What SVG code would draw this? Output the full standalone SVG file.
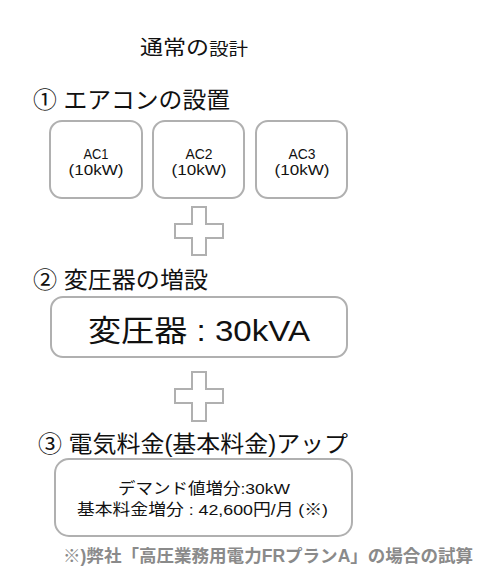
<svg xmlns="http://www.w3.org/2000/svg" width="496" height="571" viewBox="0 0 496 571">
<style>
text{font-family:"Liberation Sans","Noto Sans CJK JP",sans-serif;fill:#111}
.box{fill:#fff;stroke:#b0b0b0;stroke-width:2}
.plus{fill:#fff;stroke:#b0b0b0;stroke-width:2}
.h{font-size:23px}
.ac{font-size:15.5px;text-anchor:middle}
.c{text-anchor:middle}
.note{font-size:17.5px;fill:#8a8a8a;font-weight:bold}
</style>
<rect width="496" height="571" fill="#fff"/>
<text x="140" y="55" style="font-size:20px" textLength="108" lengthAdjust="spacingAndGlyphs">通常の<tspan style="font-size:17px">設計</tspan></text>
<text x="33" y="108" class="h" textLength="197" lengthAdjust="spacingAndGlyphs">① エアコンの設置</text>
<g id="ac1"><rect class="box" x="50" y="121" width="92" height="77" rx="12"/><text class="ac" x="96" y="159" textLength="25" lengthAdjust="spacingAndGlyphs">AC1</text><text class="ac" x="96" y="175" textLength="55" lengthAdjust="spacingAndGlyphs">(10kW)</text></g>
<g id="ac2"><rect class="box" x="153" y="121" width="91" height="77" rx="12"/><text class="ac" x="199" y="159" textLength="27" lengthAdjust="spacingAndGlyphs">AC2</text><text class="ac" x="199" y="175" textLength="55" lengthAdjust="spacingAndGlyphs">(10kW)</text></g>
<g id="ac3"><rect class="box" x="256" y="121" width="91" height="77" rx="12"/><text class="ac" x="302" y="159" textLength="27" lengthAdjust="spacingAndGlyphs">AC3</text><text class="ac" x="302" y="175" textLength="55" lengthAdjust="spacingAndGlyphs">(10kW)</text></g>
<g id="connectors">
<polygon class="plus" points="192,207 206,207 206,224 223,224 223,238 206,238 206,255 192,255 192,238 175,238 175,224 192,224"/>
<polygon class="plus" points="192,372 206,372 206,389 223,389 223,403 206,403 206,421 192,421 192,403 175,403 175,389 192,389"/>
</g>
<text x="33" y="288" class="h" textLength="175" lengthAdjust="spacingAndGlyphs">② 変圧器の増設</text>
<g id="transformer"><rect class="box" x="51" y="297" width="296" height="60" rx="12"/><text x="88" y="341" style="font-size:30px" textLength="222" lengthAdjust="spacingAndGlyphs">変圧器 : 30kVA</text></g>
<text x="38" y="452" class="h" textLength="310" lengthAdjust="spacingAndGlyphs">③ 電気料金(基本料金)アップ</text>
<g id="fee"><rect class="box" x="55" y="459" width="297" height="77" rx="14"/><text x="118" y="494" style="font-size:15.5px" textLength="172" lengthAdjust="spacingAndGlyphs">デマンド値増分:30kW</text><text x="77" y="515" style="font-size:15.5px" textLength="251" lengthAdjust="spacingAndGlyphs">基本料金増分 : 42,600円/月 (※)</text></g>
<text x="63" y="562" class="note" textLength="410" lengthAdjust="spacingAndGlyphs">※)弊社「高圧業務用電力FRプランA」の場合の試算</text>
</svg>
